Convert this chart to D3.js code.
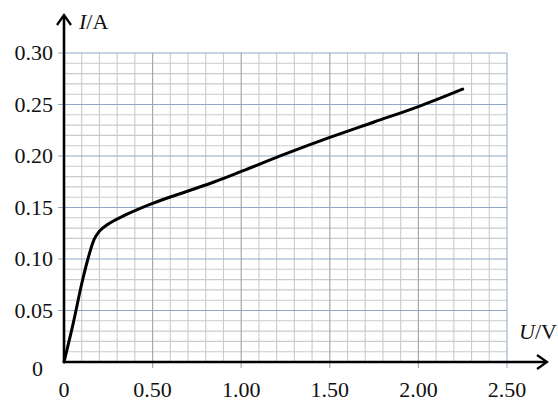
<!DOCTYPE html>
<html>
<head>
<meta charset="utf-8">
<script src="https://cdn.jsdelivr.net/npm/d3@7"></script>
<style>
  body { margin: 0; background: #fff; }
  text { font-family: "Liberation Serif", "Times New Roman", serif; fill: #111; }
</style>
</head>
<body>
<svg id="chart" width="558" height="401"></svg>
<script>
// U (V) readings and current I (A)
var voltage = [0, 0.05, 0.10, 0.135, 0.17, 0.20, 0.25, 0.35, 0.50, 0.70, 0.85, 1.00, 1.25, 1.50, 1.75, 2.00, 2.25];
var current = [0, 0.036, 0.076, 0.100, 0.119, 0.127, 0.134, 0.143, 0.154, 0.166, 0.175, 0.185, 0.202, 0.218, 0.233, 0.248, 0.265];
var xTicks = [0, 0.5, 1.0, 1.5, 2.0, 2.5];
var xTickLabels = ['0', '0.50', '1.00', '1.50', '2.00', '2.50'];
var yTicks = [0, 0.05, 0.10, 0.15, 0.20, 0.25, 0.30];
var yTickLabels = ['0', '0.05', '0.10', '0.15', '0.20', '0.25', '0.30'];

var svg = d3.select('#chart');
var x = d3.scaleLinear().domain([0, 2.5]).range([64, 507]);
var y = d3.scaleLinear().domain([0, 0.30]).range([362, 53]);

var grid = svg.append('g');
// minor grid
d3.range(1, 25).forEach(function (i) {
    var v = i / 10;
    if (i % 5 === 0) return;
    grid.append('line')
        .attr('x1', x(v)).attr('x2', x(v)).attr('y1', y(0)).attr('y2', y(0.30))
        .attr('stroke', '#cbcbcb').attr('stroke-width', 1.1);
});
d3.range(1, 30).forEach(function (i) {
    if (i % 5 === 0) return;
    var v = i / 100;
    grid.append('line')
        .attr('x1', x(0)).attr('x2', x(2.5)).attr('y1', y(v)).attr('y2', y(v))
        .attr('stroke', '#cbcbcb').attr('stroke-width', 1.1);
});
// major vertical lines (with small tick below axis)
xTicks.slice(1, 5).forEach(function (v) {
    grid.append('line')
        .attr('x1', x(v)).attr('x2', x(v)).attr('y1', y(0) + 6).attr('y2', y(0.30))
        .attr('stroke', '#a8a8a8').attr('stroke-width', 1.2);
});
grid.append('line')
    .attr('x1', x(2.5)).attr('x2', x(2.5)).attr('y1', y(0) + 6).attr('y2', y(0.30))
    .attr('stroke', '#9fb6d2').attr('stroke-width', 1.2);
// major horizontal lines
yTicks.slice(1).forEach(function (v) {
    grid.append('line')
        .attr('x1', x(0) - 6).attr('x2', x(2.5)).attr('y1', y(v)).attr('y2', y(v))
        .attr('stroke', '#8fa9c9').attr('stroke-width', 1.2);
});

// axes
svg.append('line').attr('x1', x(0)).attr('x2', 546).attr('y1', y(0)).attr('y2', y(0))
    .attr('stroke', '#000').attr('stroke-width', 2.6);
svg.append('line').attr('x1', x(0)).attr('x2', x(0)).attr('y1', y(0)).attr('y2', 16)
    .attr('stroke', '#000').attr('stroke-width', 2.6);
svg.append('path').attr('d', 'M537,' + (y(0) - 7) + ' L547,' + y(0) + ' L537,' + (y(0) + 7))
    .attr('fill', 'none').attr('stroke', '#000').attr('stroke-width', 2.2);
svg.append('path').attr('d', 'M' + (x(0) - 7) + ',25 L' + x(0) + ',15 L' + (x(0) + 7) + ',25')
    .attr('fill', 'none').attr('stroke', '#000').attr('stroke-width', 2.2);

// tick labels
svg.selectAll('.xl').data(xTicks).enter().append('text')
    .attr('x', function (d) { return x(d); })
    .attr('y', 397)
    .attr('text-anchor', 'middle')
    .style('font-size', '22px')
    .text(function (d, i) { return xTickLabels[i]; });
svg.selectAll('.yl').data(yTicks).enter().append('text')
    .attr('x', function (d) { return d === 0 ? 43 : 53; })
    .attr('y', function (d) { return y(d) + (d === 0 ? 14 : 7); })
    .attr('text-anchor', 'end')
    .style('font-size', '22px')
    .text(function (d, i) { return yTickLabels[i]; });

// axis titles
var yt = svg.append('text').attr('x', 79).attr('y', 29).style('font-size', '22px');
yt.append('tspan').style('font-style', 'italic').text('I');
yt.append('tspan').text('/A');
var xt = svg.append('text').attr('x', 519).attr('y', 339).style('font-size', '22px');
xt.append('tspan').style('font-style', 'italic').text('U');
xt.append('tspan').text('/V');

// curve
var line = d3.line()
    .x(function (d, i) { return x(voltage[i]); })
    .y(function (d, i) { return y(current[i]); })
    .curve(d3.curveMonotoneX);
svg.append('path')
    .datum(voltage)
    .attr('d', line)
    .attr('fill', 'none')
    .attr('stroke', '#000')
    .attr('stroke-width', 3)
    .attr('stroke-linecap', 'round');
</script>
</body>
</html>
